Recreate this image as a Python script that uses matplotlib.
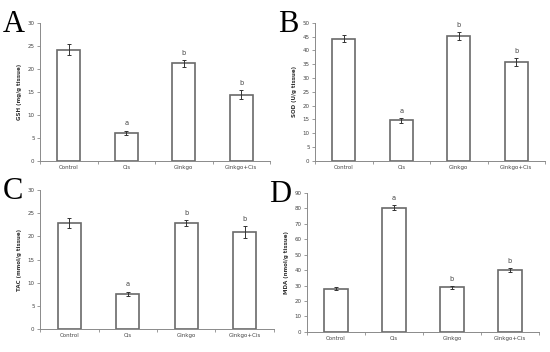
import matplotlib
matplotlib.use("Agg")
import matplotlib.pyplot as plt
import numpy as np

categories = ["Control", "Cis", "Ginkgo", "Ginkgo+Cis"]

gsh_vals = [24.2, 6.1, 21.2, 14.4]
gsh_err = [1.1, 0.5, 0.7, 0.9]
gsh_sig = ["", "a", "b", "b"]

sod_vals = [44.3, 14.7, 45.2, 35.8]
sod_err = [1.3, 0.8, 1.5, 1.3]
sod_sig = ["", "a", "b", "b"]

tac_vals = [22.9, 7.6, 22.9, 20.9]
tac_err = [1.1, 0.5, 0.7, 1.3]
tac_sig = ["", "a", "b", "b"]

mda_vals = [28.0, 80.5, 28.8, 40.2]
mda_err = [1.0, 1.5, 1.0, 1.3]
mda_sig = ["", "a", "b", "b"]

panels = [
    dict(letter="A", vals=gsh_vals, err=gsh_err, sig=gsh_sig, ymax=30, step=5,
         ylabel="GSH (mg/g tissue)", pos=[0.073, 0.543, 0.418, 0.392]),
    dict(letter="B", vals=sod_vals, err=sod_err, sig=sod_sig, ymax=50, step=5,
         ylabel="SOD (U/g tissue)", pos=[0.573, 0.543, 0.418, 0.392]),
    dict(letter="C", vals=tac_vals, err=tac_err, sig=tac_sig, ymax=30, step=5,
         ylabel="TAC (mmol/g tissue)", pos=[0.073, 0.065, 0.425, 0.395]),
    dict(letter="D", vals=mda_vals, err=mda_err, sig=mda_sig, ymax=90, step=10,
         ylabel="MDA (nmol/g tissue)", pos=[0.558, 0.057, 0.422, 0.395]),
]

fig = plt.figure(figsize=(5.5, 3.52), dpi=100)
gray = "#8a8a8a"
edge = "#6a6a6a"
x = np.arange(len(categories))

for p in panels:
    ax = fig.add_axes(p["pos"])
    ax.bar(x, p["vals"], width=0.4, color="white", edgecolor=edge, linewidth=1.2)
    ax.errorbar(x, p["vals"], yerr=p["err"], fmt="none", ecolor="#333333",
                elinewidth=0.7, capsize=1.5, capthick=0.7)
    for xi, v, e, s in zip(x, p["vals"], p["err"], p["sig"]):
        if s:
            ax.text(xi, v + e + p["ymax"] * 0.03, s, ha="center", va="bottom",
                    fontsize=4.8, color="#444444")
    ax.set_xlim(-0.5, len(categories) - 0.5)
    ax.set_ylim(0, p["ymax"])
    ax.set_yticks(np.arange(0, p["ymax"] + 0.1, p["step"]))
    ax.set_xticks(x)
    ax.set_xticklabels(categories)
    ax.set_xticks(np.arange(-0.5, len(categories), 1.0), minor=True)
    ax.tick_params(axis="x", which="major", length=0, labelsize=4, colors="#444444", pad=3)
    ax.tick_params(axis="x", which="minor", length=2, color=gray, width=0.6)
    ax.tick_params(axis="y", length=2, width=0.6, color=gray, labelsize=4,
                   labelcolor="#444444", pad=2)
    for s in ["top", "right"]:
        ax.spines[s].set_visible(False)
    for s in ["left", "bottom"]:
        ax.spines[s].set_color(gray)
        ax.spines[s].set_linewidth(0.7)
    ax.set_ylabel(p["ylabel"], fontsize=4, fontweight="bold", color="#333333", labelpad=4)
    fig.text(p["pos"][0] - 0.068, p["pos"][1] + p["pos"][3] - 0.005, p["letter"],
             fontsize=22, family="Liberation Serif", ha="left", va="center")

fig.savefig("out.png", dpi=100, facecolor="white")
